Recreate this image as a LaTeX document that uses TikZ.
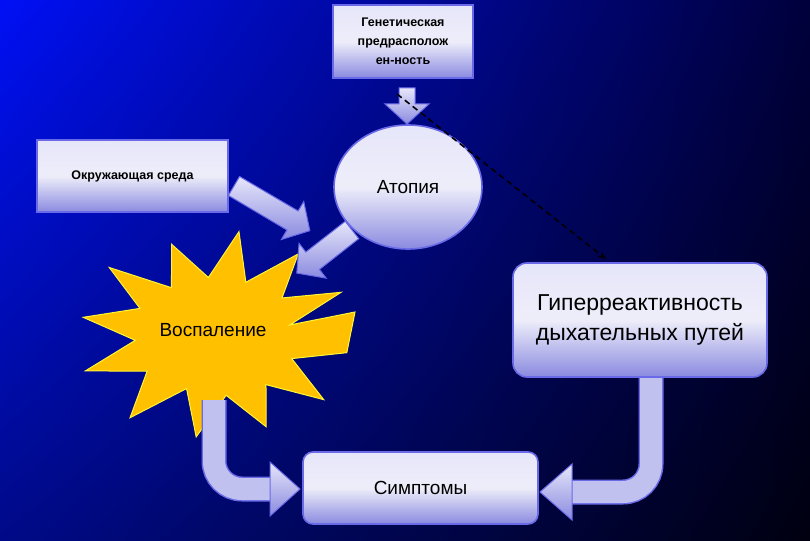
\documentclass[tikz,border=0pt]{standalone}
\usepackage{fontspec}
\setmainfont{Liberation Sans}
\usetikzlibrary{arrows.meta,shapes.geometric,shadings}
\definecolor{bgA}{HTML}{0010F5}
\definecolor{bgB}{HTML}{00003C}
\definecolor{bgC}{HTML}{000A88}
\definecolor{bgD}{HTML}{000010}
\definecolor{lavT}{HTML}{E6E6FA}
\definecolor{lavB}{HTML}{8A8AE0}
\definecolor{edgeC}{HTML}{6A6AE8}
\definecolor{starC}{HTML}{FFC000}
\tikzset{
  boxstyle/.style={draw=edgeC,line width=1.6pt,top color=lavT,bottom color=lavB,middle color=white!85!lavB,inner sep=0pt,align=center},
  arrowfill/.style={draw=edgeC,line width=1pt},
  bentshaft/.style={rounded corners=28pt,line width=#1},
}
\newcommand\barrow[6]{% x,y,angle,length,shaft half,head half
  \begin{scope}[shift={(#1,#2)},rotate=#3]
  \path[arrowfill,top color=lavT,bottom color=lavB] (0,#5) -- ({#4-20},#5) -- ({#4-20},#6) -- (#4,0) -- ({#4-20},-#6) -- ({#4-20},-#5) -- (0,-#5) -- cycle;
  \end{scope}}
\begin{document}
\begin{tikzpicture}[x=1pt,y=-1pt]
\shade[upper left=bgA,upper right=bgB,lower left=bgC,lower right=bgD] (0,0) rectangle (810,540);
\useasboundingbox (0,0) rectangle (810,540);
% star
\fill[starC,draw=yellow!80!white,line width=1pt] (355,312)
  \foreach \a/\r in {10/0.55,24/1,36/0.6,52/0.98,66/0.55,80/1,95/0.55,110/0.92,125/0.55,140/1,155/0.6,170/0.97,185/0.58,200/1,215/0.6,232/1,248/0.55,262/0.98,278/0.58,293/0.95,308/0.6,322/1,338/0.6,350/0.97}
  { -- ({215+138*\r*cos(\a)},{335-105*\r*sin(\a)}) } -- cycle;
\node (star) at (213,330) {\fontsize{19}{22}\selectfont Воспаление};
% nodes
\node[boxstyle,minimum width=140,minimum height=73,font=\bfseries\fontsize{12.5}{19}\selectfont] (gen) at (403,41.5) {Генетическая\\предрасполож\\ен-ность};
\node[boxstyle,minimum width=191,minimum height=72,font=\bfseries\fontsize{12.5}{14}\selectfont] (env) at (132.5,176) {Окружающая среда};
\node[boxstyle,ellipse,minimum width=148,minimum height=124,font=\fontsize{19}{22}\selectfont] (atop) at (408,187) {Атопия};
\node[boxstyle,rounded corners=14,minimum width=254,minimum height=114,font=\fontsize{23}{30}\selectfont] (hyp) at (640,320) {Гиперреактивность\\дыхательных путей};
\node[boxstyle,rounded corners=10,minimum width=235,minimum height=72,font=\fontsize{19}{22}\selectfont] (sym) at (420.5,488) {Симптомы};
% block arrows
\barrow{407}{88}{-90}{36}{8}{22}
\barrow{234}{186}{-30.5}{88}{11}{22}
\barrow{352}{230}{218}{70}{11}{22}
% curved arrows
\coordinate (s1) at (214,400);
\coordinate (s2) at (272,489);
\draw[edgeC,bentshaft=25pt] (s1) -- (214,489) -- (s2);
\draw[lavT!60!lavB,bentshaft=22pt] (s1) -- (214,489) -- (s2);
\path[arrowfill,top color=lavT,bottom color=lavB] (270,462) -- (300,489) -- (270,516) -- cycle;
\coordinate (h1) at (651,378);
\coordinate (h2) at (570,492);
\draw[edgeC,bentshaft=25pt] (h1) -- (651,492) -- (h2);
\draw[lavT!60!lavB,bentshaft=22pt] (h1) -- (651,492) -- (h2);
\path[arrowfill,top color=lavT,bottom color=lavB] (572,464) -- (540,492) -- (572,520) -- cycle;
% dashed
\coordinate (d1) at (397,94);
\coordinate (d2) at (606,259);
\draw[black,line width=1.6pt,dash pattern=on 6pt off 4pt,-{Stealth[length=8pt]}] (d1) -- (d2);
\end{tikzpicture}
\end{document}
